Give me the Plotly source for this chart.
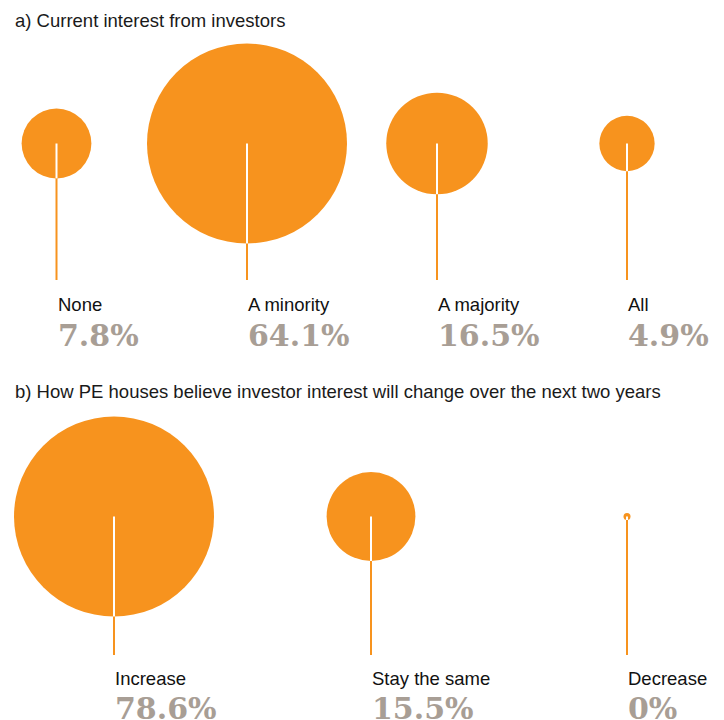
import plotly.graph_objects as go
import math

# ---- data ----
title_a = "a) Current interest from investors"
cats_a = ["None", "A minority", "A majority", "All"]
vals_a = [7.8, 64.1, 16.5, 4.9]

title_b = "b) How PE houses believe investor interest will change over the next two years"
cats_b = ["Increase", "Stay the same", "Decrease"]
vals_b = [78.6, 15.5, 0]

# ---- styling / layout ----
ORANGE = "#F7931E"
GREY = "#A89E95"
PAGE_OFF = 8          # browser default body margin
W, H = 724 - PAGE_OFF, 720 - PAGE_OFF
MAX_D = 200  # diameter (px) of the largest bubble in each panel
MIN_D = 7

panels = [
    dict(title=title_a, cats=cats_a, vals=vals_a, xs=[56.5, 247, 437, 627],
         cy=143.5, line_end=280, title_y=20, label_y=304, pct_y=335),
    dict(title=title_b, cats=cats_b, vals=vals_b, xs=[114, 371, 627],
         cy=516.5, line_end=655, title_y=391, label_y=678, pct_y=708),
]

fig = go.Figure()
annotations = []

for p in panels:
    vmax = max(p["vals"])
    diam = [max(MAX_D * math.sqrt(v / vmax), MIN_D) for v in p["vals"]]
    n = len(p["vals"])
    # orange stems (under bubbles)
    lx, ly = [], []
    for x in p["xs"]:
        lx += [x, x, None]
        ly += [p["cy"], p["line_end"], None]
    fig.add_trace(go.Scatter(x=lx, y=ly, mode="lines",
                             line=dict(color=ORANGE, width=2),
                             hoverinfo="skip", showlegend=False))
    # bubbles
    fig.add_trace(go.Scatter(x=p["xs"], y=[p["cy"]] * n, mode="markers",
                             marker=dict(size=diam, color=ORANGE, opacity=1,
                                         line=dict(width=0)),
                             text=p["cats"], showlegend=False))
    # white stems inside bubbles
    wx, wy = [], []
    for x, d in zip(p["xs"], diam):
        wx += [x, x, None]
        wy += [p["cy"], p["cy"] + d / 2, None]
    fig.add_trace(go.Scatter(x=wx, y=wy, mode="lines",
                             line=dict(color="white", width=2),
                             hoverinfo="skip", showlegend=False))
    # texts
    annotations.append(dict(x=13, y=p["title_y"], xref="x", yref="y",
                            text=p["title"], showarrow=False, xanchor="left",
                            yanchor="middle",
                            font=dict(family="Liberation Sans, Arial", size=18.5,
                                      color="#1a1a1a")))
    for x, c, v in zip(p["xs"], p["cats"], p["vals"]):
        annotations.append(dict(x=x - 1, y=p["label_y"], xref="x", yref="y",
                                text=c, showarrow=False, xanchor="left",
                                yanchor="middle",
                                font=dict(family="Liberation Sans, Arial", size=18.5,
                                          color="#111111")))
        annotations.append(dict(x=x - 1, y=p["pct_y"], xref="x", yref="y",
                                text=f"<b>{v:g}%</b>", showarrow=False,
                                xanchor="left", yanchor="middle",
                                font=dict(family="DejaVu Serif", size=30,
                                          color=GREY)))

fig.update_layout(
    width=W, height=H,
    margin=dict(l=0, r=0, t=0, b=0),
    paper_bgcolor="white", plot_bgcolor="white",
    xaxis=dict(range=[PAGE_OFF, 724], visible=False, fixedrange=True),
    yaxis=dict(range=[720, PAGE_OFF], visible=False, fixedrange=True),
    annotations=annotations,
    showlegend=False,
)

fig.write_html("out.html")
